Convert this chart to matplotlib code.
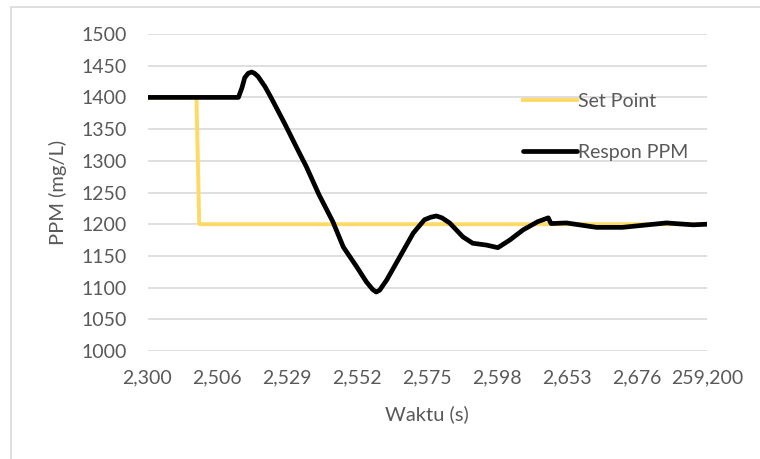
import matplotlib.pyplot as plt
from matplotlib.patches import Rectangle

# x positions are in category-label units (0 = "2,300", 8 = "259,200")
tick_labels = ['2,300', '2,506', '2,529', '2,552', '2,575', '2,598', '2,653', '2,676', '259,200']

sp_x = [0.0, 0.70, 0.74, 8.0]
sp_y = [1400, 1400, 1200, 1200]

resp_x = [0.0, 1.30, 1.35, 1.39, 1.44, 1.49, 1.53, 1.58, 1.68, 1.77, 1.96, 2.15, 2.27,
          2.45, 2.65, 2.80, 2.99, 3.13, 3.22, 3.27, 3.32, 3.42, 3.61, 3.80, 3.96, 4.05,
          4.13, 4.21, 4.32, 4.51, 4.65, 4.85, 5.01, 5.18, 5.37, 5.58, 5.73, 5.77,
          5.99, 6.42, 6.79, 7.42, 7.80, 8.0]
resp_y = [1400, 1400, 1415, 1431, 1438, 1440, 1438, 1433, 1417, 1399, 1359, 1317, 1291,
          1247, 1204, 1164, 1133, 1109, 1097, 1093, 1096, 1112, 1149, 1186, 1207, 1211,
          1213, 1210, 1202, 1180, 1170, 1167, 1163, 1175, 1191, 1204, 1210, 1201,
          1202, 1195, 1195, 1202, 1199, 1200]

plt.rcParams['font.family'] = ['Lato', 'DejaVu Sans']
grey = '#595959'

fig = plt.figure(figsize=(7.6, 4.59), dpi=100)
W, H = 760, 459
ax = fig.add_axes([147.5 / W, 1 - 351 / H, (707 - 147.5) / W, (351 - 34) / H])

# chart area border
fig.patches.append(Rectangle((11 / W, -0.1), 1.2, 1 - 7 / H + 0.1, transform=fig.transFigure,
                             fill=False, edgecolor='#d9d9d9', linewidth=1.2))

ax.plot(sp_x, sp_y, color='#ffd966', linewidth=2.8, label='Set Point', solid_joinstyle='round')
ax.plot(resp_x, resp_y, color='black', linewidth=3.4, label='Respon PPM',
        solid_joinstyle='round', solid_capstyle='round')

ax.set_xlim(0, 8)
ax.set_ylim(1000, 1500)
ax.set_yticks(range(1000, 1501, 50))
ax.set_xticks(range(9))
ax.set_xticklabels(tick_labels)
ax.grid(axis='y', color='#d9d9d9', linewidth=1.2)
ax.set_axisbelow(True)
for s in ax.spines.values():
    s.set_visible(False)
ax.tick_params(length=0, labelsize=14, colors=grey)
ax.tick_params(axis='x', pad=13)
ax.tick_params(axis='y', pad=15)

ax.set_xlabel('Waktu (s)', fontsize=14.5, color=grey, labelpad=14)
ax.set_ylabel('PPM (mg/L)', fontsize=14.5, color=grey, labelpad=10)

leg = ax.legend(loc='upper left', bbox_to_anchor=(0.64, 0.87), frameon=False,
                fontsize=14, handlelength=2.75, handletextpad=0.1, labelspacing=1.75)
for t in leg.get_texts():
    t.set_color(grey)

fig.savefig('out.png', dpi=100)
